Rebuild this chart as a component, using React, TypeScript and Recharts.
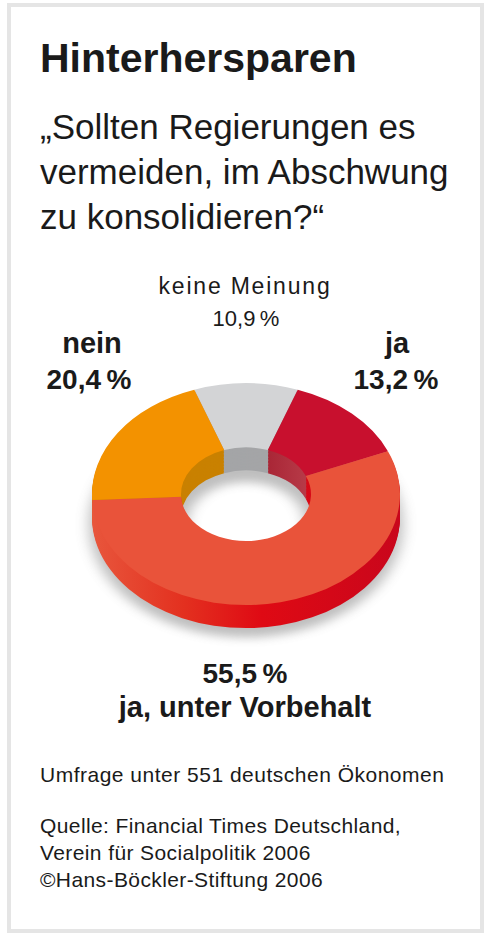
import React from "react";
import { PieChart, Pie, Cell } from "recharts";

// survey answers, clockwise from the top
const categories = ["keine Meinung", "ja", "ja, unter Vorbehalt", "nein"];
const shares = [10.9, 13.2, 55.5, 20.4];
const shareLabels = ["10,9\u2009%", "13,2\u2009%", "55,5\u2009%", "20,4\u2009%"];
const topColors = ["#d3d4d6", "#c8102e", "#e9533a", "#f39200"];
const sideColors = ["#a4a5a7", "url(#sideJa)", "url(#sideVorbehalt)", "#c98100"];

const subtitleLines = [
  "\u201eSollten Regierungen es",
  "vermeiden, im Abschwung",
  "zu konsolidieren?\u201c",
];
const footnote = "Umfrage unter 551 deutschen \u00d6konomen";
const sourceLines = [
  "Quelle: Financial Times Deutschland,",
  "Verein f\u00fcr Socialpolitik 2006",
  "\u00a9Hans-B\u00f6ckler-Stiftung 2006",
];

const pieData = categories.map((name, i) => ({ name, value: shares[i] }));

const FONT = "'Liberation Sans', Arial, Helvetica, sans-serif";
const INK = "#1a1a1a";

// chart geometry (before the vertical squash)
const CX = 165;
const CY = 160;
const OUTER = 154;
const INNER = 65;
const DEPTH = 32;
const TILT = 0.72;
const START = 90 + (shares[0] * 3.6) / 2;

const layers = Array.from({ length: DEPTH / 2 }, (_, i) => DEPTH - i * 2);

function Donut() {
  return (
    <PieChart width={330} height={350} margin={{ top: 0, right: 0, bottom: 0, left: 0 }}>
      <defs>
        <linearGradient id="sideVorbehalt" x1="0" y1="0" x2="1" y2="0">
          <stop offset="0%" stopColor="#e8563c" />
          <stop offset="30%" stopColor="#e3301f" />
          <stop offset="55%" stopColor="#df0a14" />
          <stop offset="100%" stopColor="#c9061c" />
        </linearGradient>
        <linearGradient id="sideJa" x1="0" y1="0" x2="1" y2="0">
          <stop offset="0%" stopColor="#a92636" />
          <stop offset="100%" stopColor="#d4656d" />
        </linearGradient>
      </defs>
      {layers.map((d) => (
        <Pie
          key={`side-${d}`}
          data={pieData}
          dataKey="value"
          cx={CX}
          cy={CY + d}
          innerRadius={INNER}
          outerRadius={OUTER}
          startAngle={START}
          endAngle={START - 360}
          stroke="none"
          isAnimationActive={false}
        >
          {pieData.map((p, i) => (
            <Cell key={p.name} fill={sideColors[i]} />
          ))}
        </Pie>
      ))}
      <Pie
        data={pieData}
        dataKey="value"
        cx={CX}
        cy={CY}
        innerRadius={INNER}
        outerRadius={OUTER}
        startAngle={START}
        endAngle={START - 360}
        stroke="none"
        isAnimationActive={false}
      >
        {pieData.map((p, i) => (
          <Cell key={p.name} fill={topColors[i]} />
        ))}
      </Pie>
    </PieChart>
  );
}

// soft drop shadow under the ring
function DonutShadow() {
  return (
    <PieChart width={330} height={380} margin={{ top: 0, right: 0, bottom: 0, left: 0 }}>
      <Pie
        data={pieData}
        dataKey="value"
        cx={CX}
        cy={CY + DEPTH + 10}
        innerRadius={INNER - 6}
        outerRadius={OUTER + 3}
        startAngle={START}
        endAngle={START - 360}
        stroke="none"
        isAnimationActive={false}
      >
        {pieData.map((p) => (
          <Cell key={p.name} fill="#5e5e5e" />
        ))}
      </Pie>
    </PieChart>
  );
}

export default function App() {
  const chartPos = {
    position: "absolute" as const,
    left: 246 - CX,
    top: 494 - CY * TILT,
    transform: `scaleY(${TILT})`,
    transformOrigin: "top left",
  };
  return (
    <div
      style={{
        position: "absolute",
        left: 0,
        top: 0,
        width: 488,
        height: 941,
        background: "#fff",
        overflow: "hidden",
      }}
    >
      <div
        style={{
          position: "absolute",
          left: 7,
          top: 3,
          width: 477,
          height: 930,
          border: "4px solid #e5e5e5",
          boxSizing: "border-box",
        }}
      />
      <svg
        width={488}
        height={941}
        style={{ position: "absolute", left: 0, top: 0 }}
        fontFamily={FONT}
        fill={INK}
      >
        <text x={40} y={72} fontSize={41} fontWeight={700}>
          Hinterhersparen
        </text>
        {subtitleLines.map((t, i) => (
          <text key={t} x={40} y={139 + i * 45} fontSize={35}>
            {t}
          </text>
        ))}

        <text x={245} y={294} fontSize={23} letterSpacing={1.8} textAnchor="middle">
          {categories[0]}
        </text>
        <text x={246} y={326} fontSize={22} textAnchor="middle">
          {shareLabels[0]}
        </text>

        <text x={92} y={353} fontSize={29} fontWeight={700} textAnchor="middle">
          {categories[3]}
        </text>
        <text x={89} y={389} fontSize={28} fontWeight={700} textAnchor="middle">
          {shareLabels[3]}
        </text>

        <text x={397} y={353} fontSize={29} fontWeight={700} textAnchor="middle">
          {categories[1]}
        </text>
        <text x={396} y={389} fontSize={28} fontWeight={700} textAnchor="middle">
          {shareLabels[1]}
        </text>

        <text x={245} y={683} fontSize={28} fontWeight={700} textAnchor="middle">
          {shareLabels[2]}
        </text>
        <text x={245} y={717} fontSize={29} fontWeight={700} textAnchor="middle">
          {categories[2]}
        </text>

        <text x={40} y={782} fontSize={21} letterSpacing={0.5}>
          {footnote}
        </text>
        {sourceLines.map((t, i) => (
          <text key={t} x={40} y={833 + i * 27} fontSize={21} letterSpacing={0.4}>
            {t}
          </text>
        ))}
      </svg>
      <div style={{ ...chartPos, filter: "blur(7px)", opacity: 0.4 }}>
        <DonutShadow />
      </div>
      <div style={chartPos}>
        <Donut />
      </div>
    </div>
  );
}
